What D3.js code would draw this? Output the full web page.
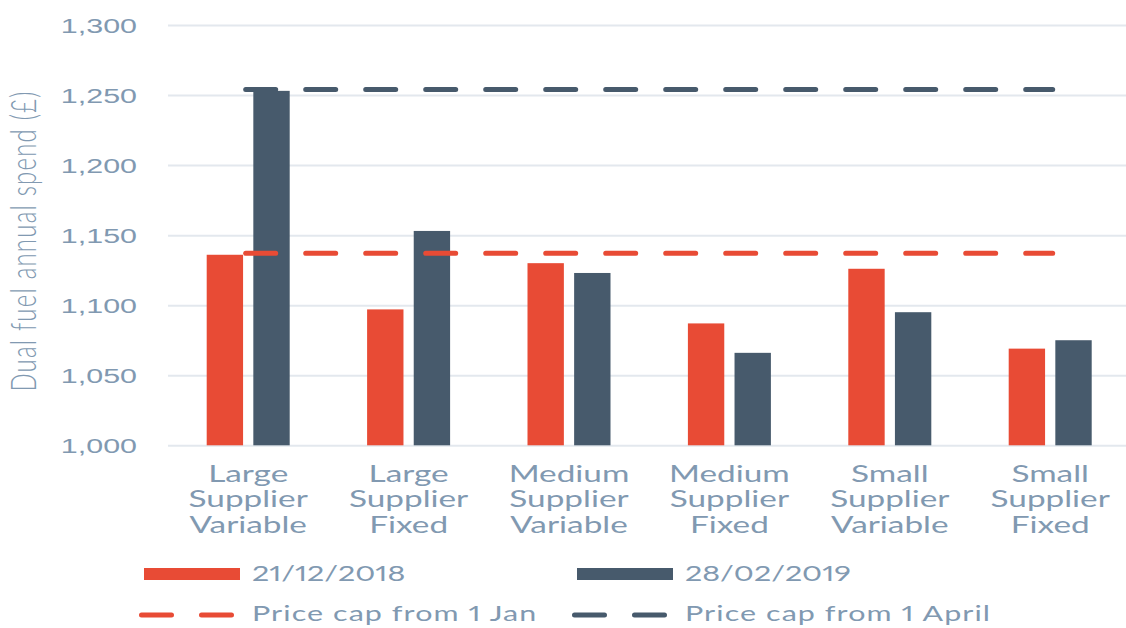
<!DOCTYPE html>
<html>
<head>
<meta charset="utf-8">
<script src="https://cdn.jsdelivr.net/npm/d3@7"></script>
<style>
  body { margin: 0; background: #fff; }
  svg { display: block; font-family: Lato, "Open Sans", sans-serif; font-variant-numeric: proportional-nums; }
</style>
</head>
<body>
<svg id="chart" width="1126" height="628"></svg>
<script>
// data
var categories = [
  ["Large", "Supplier", "Variable"],
  ["Large", "Supplier", "Fixed"],
  ["Medium", "Supplier", "Variable"],
  ["Medium", "Supplier", "Fixed"],
  ["Small", "Supplier", "Variable"],
  ["Small", "Supplier", "Fixed"]
];
var seriesNames = ["21/12/2018", "28/02/2019"];
var dec2018 = [1136, 1097, 1130, 1087, 1126, 1069];
var feb2019 = [1253, 1153, 1123, 1066, 1095, 1075];
var capNames = ["Price cap from 1 Jan", "Price cap from 1 April"];
var capValues = [1137, 1254];
var yTicks = [1000, 1050, 1100, 1150, 1200, 1250, 1300];

var colors = ["#e84b35", "#475a6c"];
var textColor = "#8199b1";
var gridColor = "#e3e8ee";
var SX = 1.45; // the picture is stretched sideways, text too

var svg = d3.select('#chart');
var catKeys = categories.map(function(d) { return d.join(" "); });

var x0 = d3.scaleBand().domain(catKeys).range([168, 1130.4]);
var y = d3.scaleLinear().domain([1000, 1300]).range([445.3, 25]);

// y axis + gridlines
var yAxis = svg.append('g')
  .attr('transform', 'translate(168,0)')
  .call(d3.axisLeft(y).tickValues(yTicks).tickFormat(d3.format(",")).tickSize(-960));
yAxis.select('.domain').remove();
yAxis.selectAll('.tick line').attr('stroke', gridColor).attr('stroke-width', 2);
yAxis.selectAll('.tick text')
  .attr('fill', textColor)
  .attr('font-size', 21)
  .attr('x', -31 / SX)
  .attr('dy', '0.35em')
  .attr('transform', 'scale(' + SX + ',1)');

// y title
svg.append('g')
  .attr('transform', 'translate(36,241) scale(' + SX + ',1) rotate(-90)')
  .append('text')
  .attr('text-anchor', 'middle')
  .attr('fill', textColor)
  .attr('font-size', 24)
  .attr('font-weight', 300)
  .attr('letter-spacing', 1.2)
  .text('Dual fuel annual spend (£)');

// bars
var rows = catKeys.map(function(k, i) {
  return { key: k, values: [dec2018[i], feb2019[i]] };
});
var groups = svg.selectAll('.grp')
  .data(rows)
  .enter()
  .append('g')
  .attr('class', 'grp')
  .attr('transform', function(d) { return 'translate(' + x0(d.key) + ',0)'; });

var x1 = d3.scaleBand().domain(seriesNames)
  .range([x0.bandwidth() / 2 - 41.5, x0.bandwidth() / 2 + 41.5])
  .paddingInner(0.22);

groups.selectAll('rect')
  .data(function(d) { return d.values.map(function(v, j) { return { s: seriesNames[j], v: v, j: j }; }); })
  .enter()
  .append('rect')
  .attr('x', function(d) { return x1(d.s); })
  .attr('width', x1.bandwidth())
  .attr('y', function(d) { return y(d.v); })
  .attr('height', function(d) { return y(1000) - y(d.v); })
  .attr('fill', function(d) { return colors[d.j]; });

// price cap lines
var capStart = x0(catKeys[0]) + x0.bandwidth() / 2 - 2.5;
var capEnd = x0(catKeys[catKeys.length - 1]) + x0.bandwidth() / 2 + 2.5;
svg.selectAll('.cap')
  .data(capValues)
  .enter()
  .append('line')
  .attr('class', 'cap')
  .attr('x1', capStart)
  .attr('x2', capEnd)
  .attr('y1', function(d) { return y(d); })
  .attr('y2', function(d) { return y(d); })
  .attr('stroke', function(d, i) { return colors[i]; })
  .attr('stroke-width', 5)
  .attr('stroke-linecap', 'round')
  .attr('stroke-dasharray', '30,30');

// category labels
var lab = svg.selectAll('.cat')
  .data(categories)
  .enter()
  .append('g')
  .attr('class', 'cat')
  .attr('transform', function(d, i) {
    return 'translate(' + (x0(catKeys[i]) + x0.bandwidth() / 2) + ',482) scale(' + SX + ',1)';
  })
  .append('text')
  .attr('text-anchor', 'middle')
  .attr('fill', textColor)
  .attr('font-size', 23);
lab.selectAll('tspan')
  .data(function(d) { return d; })
  .enter()
  .append('tspan')
  .attr('x', 0)
  .attr('y', function(d, i) { return i * 25.5; })
  .text(function(d) { return d; });

// legend
var legX = [144, 577];
var legend = svg.append('g');
seriesNames.forEach(function(name, i) {
  legend.append('rect')
    .attr('x', legX[i]).attr('y', 568)
    .attr('width', 96).attr('height', 12)
    .attr('fill', colors[i]);
  legend.append('g')
    .attr('transform', 'translate(' + (legX[i] + 108) + ',574) scale(' + SX + ',1)')
    .append('text')
    .attr('dy', '0.35em')
    .attr('fill', textColor)
    .attr('font-size', 21)
    .text(name);
});
capNames.forEach(function(name, i) {
  legend.append('line')
    .attr('x1', legX[i] - 2.5).attr('x2', legX[i] + 87.5)
    .attr('y1', 615).attr('y2', 615)
    .attr('stroke', colors[i])
    .attr('stroke-width', 5)
    .attr('stroke-linecap', 'round')
    .attr('stroke-dasharray', '30,30');
  legend.append('g')
    .attr('transform', 'translate(' + (legX[i] + 108) + ',614) scale(' + SX + ',1)')
    .append('text')
    .attr('dy', '0.35em')
    .attr('fill', textColor)
    .attr('font-size', 21)
    .attr('letter-spacing', 0.75)
    .text(name);
});
</script>
</body>
</html>
